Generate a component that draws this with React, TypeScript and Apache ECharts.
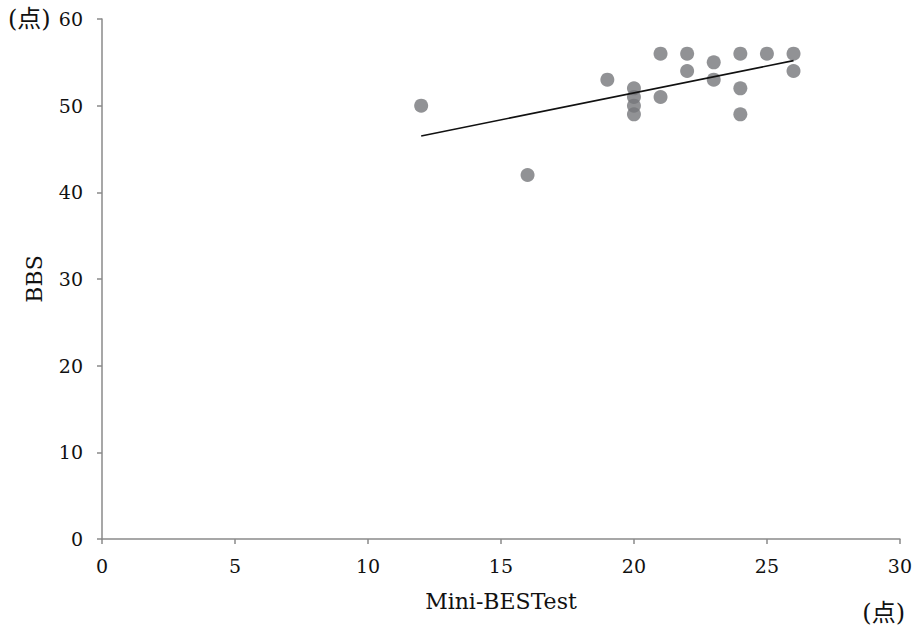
import React, { useEffect, useRef } from "react";
import * as echarts from "echarts";

const miniBESTest = [12, 16, 19, 20, 20, 20, 20, 21, 21, 22, 22, 23, 23, 24, 24, 24, 25, 26, 26];
const bbs = [50, 42, 53, 52, 51, 50, 49, 56, 51, 56, 54, 55, 53, 56, 52, 49, 56, 56, 54];
const trendX = [12, 26];
const trendY = [46.5, 55.2];
const xTicks = [0, 5, 10, 15, 20, 25, 30];
const yTicks = [0, 10, 20, 30, 40, 50, 60];

const FONT = "'DejaVu Serif', 'Noto Sans CJK JP', serif";

export default function App() {
  const ref = useRef<HTMLDivElement>(null);
  useEffect(() => {
    if (!ref.current) return;
    const chart = echarts.init(ref.current, null, { renderer: "svg" });
    const points = miniBESTest.map((x, i) => [x, bbs[i]]);
    const trend = trendX.map((x, i) => [x, trendY[i]]);
    const axisLine = { show: true, lineStyle: { color: "#8a8a8a", width: 1.5 } };
    chart.setOption({
      animation: false,
      backgroundColor: "#ffffff",
      grid: { left: 102, right: 15, top: 19, bottom: 93, containLabel: false },
      xAxis: {
        type: "value",
        min: xTicks[0],
        max: xTicks[xTicks.length - 1],
        interval: 5,
        name: "Mini-BESTest",
        nameLocation: "middle",
        nameGap: 51,
        nameTextStyle: { fontFamily: FONT, fontSize: 22, color: "#111111" },
        axisLine,
        axisTick: { show: true, length: 5, inside: false, lineStyle: { color: "#8a8a8a", width: 1.5 } },
        axisLabel: { fontFamily: FONT, fontSize: 19, color: "#111111", margin: 17 },
        splitLine: { show: false },
      },
      yAxis: {
        type: "value",
        min: yTicks[0],
        max: yTicks[yTicks.length - 1],
        interval: 10,
        name: "BBS",
        nameLocation: "middle",
        nameRotate: 90,
        nameGap: 57,
        nameTextStyle: { fontFamily: FONT, fontSize: 22, color: "#111111" },
        axisLine,
        axisTick: { show: true, length: 5, inside: false, lineStyle: { color: "#8a8a8a", width: 1.5 } },
        axisLabel: { fontFamily: FONT, fontSize: 19, color: "#111111", margin: 19 },
        splitLine: { show: false },
      },
      graphic: [
        {
          type: "text",
          left: 8,
          top: 7,
          style: { text: "(点)", fontFamily: FONT, fontSize: 24, fill: "#111111" },
        },
        {
          type: "text",
          right: 10,
          top: 601,
          style: { text: "(点)", fontFamily: FONT, fontSize: 24, fill: "#111111" },
        },
      ],
      series: [
        {
          type: "scatter",
          data: points,
          symbol: "circle",
          symbolSize: 14,
          itemStyle: { color: "#76777a" },
          z: 2,
        },
        {
          type: "line",
          data: trend,
          symbol: "none",
          lineStyle: { color: "#111111", width: 1.6 },
          z: 3,
        },
      ],
    });
    return () => chart.dispose();
  }, []);
  return (
    <div
      ref={ref}
      style={{ position: "absolute", left: 0, top: 0, width: 915, height: 632 }}
    />
  );
}
